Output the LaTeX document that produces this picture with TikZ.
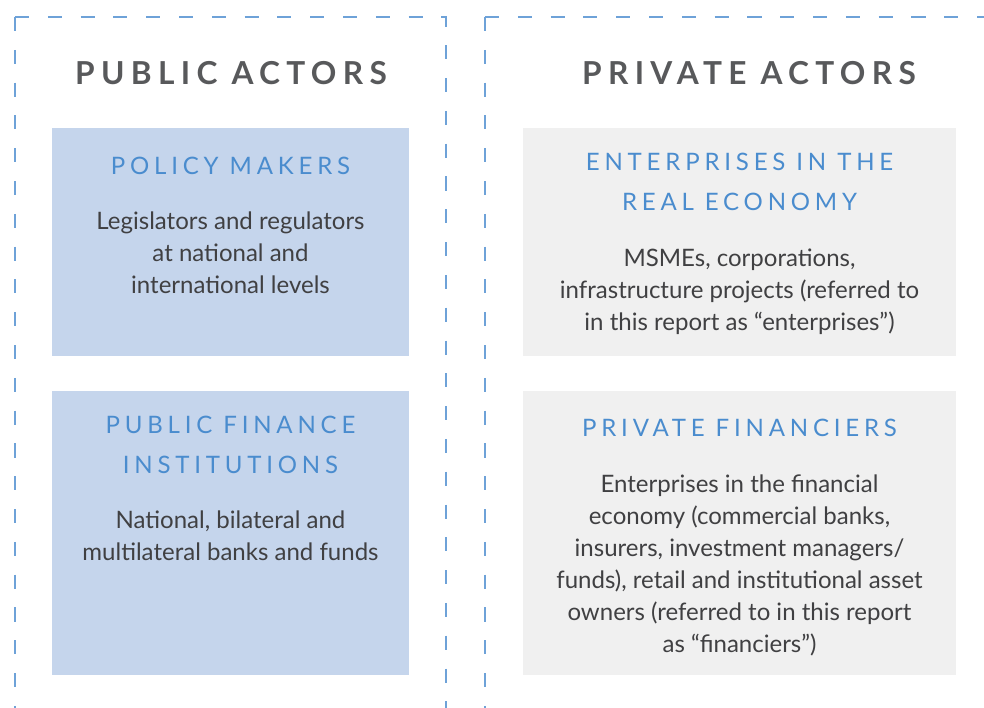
\documentclass[tikz,border=0pt]{standalone}
\usepackage{fontspec}
\setmainfont{Lato}
\newfontfamily\spacedfont[LetterSpace=20]{Lato}
\usetikzlibrary{positioning}

\definecolor{dashblue}{RGB}{110,162,216}
\definecolor{headgray}{RGB}{88,89,91}
\definecolor{subblue}{RGB}{74,140,206}
\definecolor{textgray}{RGB}{64,64,66}
\definecolor{pubfill}{RGB}{197,213,236}
\definecolor{privfill}{RGB}{240,240,240}

\tikzset{
  frame/.style={draw=dashblue, line width=1.1pt, dash pattern=on 12pt off 16pt},
  pubbox/.style={fill=pubfill},
  privbox/.style={fill=privfill},
  headtext/.style={inner sep=0pt, text=headgray,
    font={\spacedfont\bfseries\fontsize{27}{32}\selectfont}},
  subtext/.style={inner sep=0pt, align=center, text=subblue,
    font={\spacedfont\fontsize{20.5}{34}\selectfont}},
  bodytext/.style={inner sep=0pt, align=center, text=textgray,
    font={\fontsize{20.5}{27.3}\selectfont}}
}

\begin{document}
\begin{tikzpicture}[x=0.03cm, y=-0.03cm]
  \useasboundingbox (0,0) rectangle (984,708);

  % dashed frames
  \draw[frame] (15,17) -- (15,710);
  \draw[frame] (15,17) -- (446,17) -- (446,710);
  \draw[frame] (485,17) -- (485,710);
  \draw[frame] (485,17) -- (990,17);

  % headings
  \node[headtext] (pubhead) at (231,73) {PUBLIC ACTORS};
  \node[headtext] (privhead) at (749,73) {PRIVATE ACTORS};

  % boxes
  \fill[pubbox] (52,128) rectangle (409,356);
  \fill[pubbox] (52,391) rectangle (409,675);
  \fill[privbox] (523,128) rectangle (956,356);
  \fill[privbox] (523,391) rectangle (956,675);

  % public side
  \node[subtext] (policy) at (230.5,166) {POLICY MAKERS};
  \node[bodytext] (policytxt) at (230.5,253) {Legislators and regulators\\at national and\\international levels};
  \node[subtext] (pubfin) at (230.5,445) {PUBLIC FINANCE\\INSTITUTIONS};
  \node[bodytext] (pubfintxt) at (230.5,536) {National, bilateral and\\multilateral banks and funds};

  % private side
  \node[subtext] (enterp) at (739.5,182) {ENTERPRISES IN THE\\REAL ECONOMY};
  \node[bodytext] (enterptxt) at (739.5,292) {MSMEs, corporations,\\infrastructure projects (referred to\\in this report as ``enterprises'')};
  \node[subtext] (privfin) at (739.5,428) {PRIVATE FINANCIERS};
  \node[bodytext] (privfintxt) at (739.5,565) {Enterprises in the financial\\economy (commercial banks,\\insurers, investment managers/\\funds), retail and institutional asset\\owners (referred to in this report\\as ``financiers'')};
\end{tikzpicture}
\end{document}
